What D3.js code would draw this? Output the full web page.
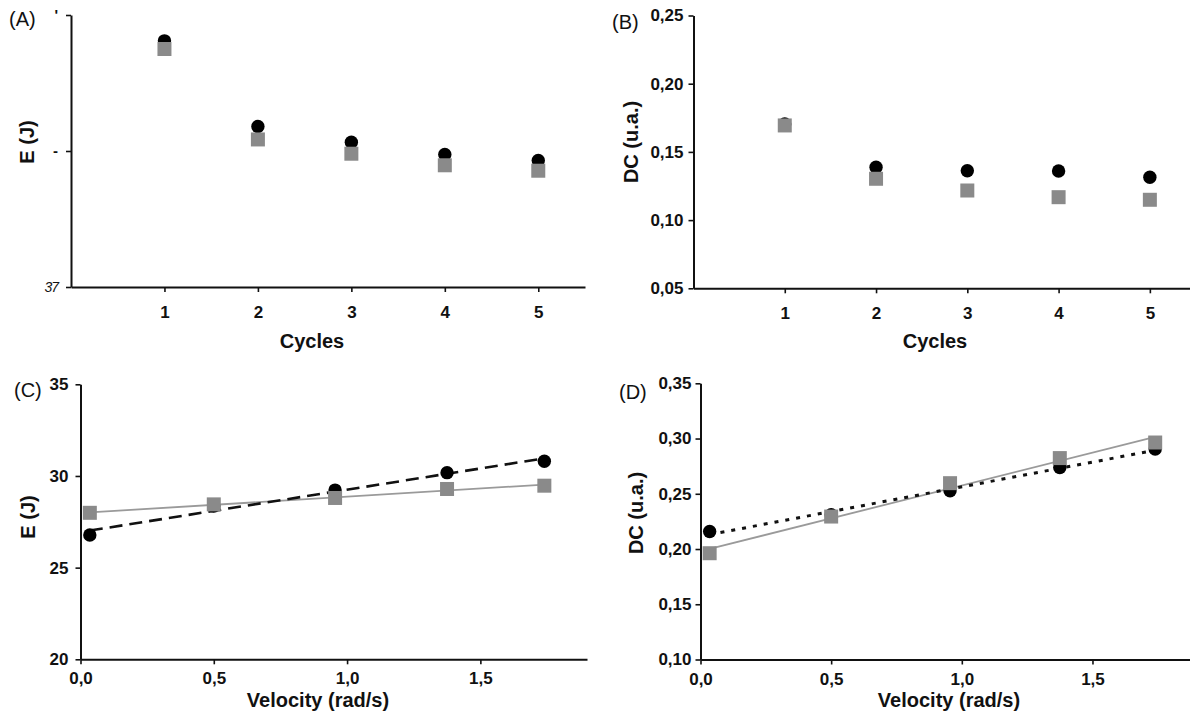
<!DOCTYPE html>
<html>
<head>
<meta charset="utf-8">
<script src="https://cdn.jsdelivr.net/npm/d3@7"></script>
<style>
  body { margin: 0; background: #fff; }
  svg { display: block; font-family: "Liberation Sans", Arial, sans-serif; }
</style>
</head>
<body>
<script>
const width = 1190;
const height = 716;

// values
const cycles = [1, 2, 3, 4, 5];
const energyCycleBlack = [40.62, 39.36, 39.13, 38.95, 38.86];
const energyCycleGray = [40.5, 39.17, 38.96, 38.79, 38.71];
const dcCycleBlack = [0.1705, 0.1387, 0.1362, 0.136, 0.1314];
const dcCycleGray = [0.1694, 0.1303, 0.1217, 0.1168, 0.1149];

const velocity = [0.035, 0.5, 0.955, 1.375, 1.74];
const energyVelBlack = [26.78, 28.36, 29.23, 30.18, 30.8];
const energyVelGray = [27.99, 28.45, 28.8, 29.29, 29.47];
const dcVelBlack = [0.2158, 0.231, 0.2527, 0.2738, 0.2905];
const dcVelGray = [0.1962, 0.2294, 0.2596, 0.2823, 0.2964];

// tick values / labels
const cycleTicks = [1, 2, 3, 4, 5];
const energyCycleTicks = [37, 39, 41];
const energyCycleTickLabels = ["37", "-", "'"]; // the original labels are cut off
const dcCycleTicks = [0.05, 0.1, 0.15, 0.2, 0.25];
const velocityTicks = [0, 0.5, 1.0, 1.5];
const energyVelTicks = [20, 25, 30, 35];
const dcVelTicks = [0.1, 0.15, 0.2, 0.25, 0.3, 0.35];

const locale = d3.formatLocale({ decimal: ",", thousands: ".", grouping: [3], currency: ["", ""] });
const f1 = locale.format(".1f");
const f2 = locale.format(".2f");

const grayFill = "#8a8a8a";

let svg = d3
  .select("body")
  .append("svg")
  .attr("width", width)
  .attr("height", height);

// simple least squares fit
function fit(xs, ys) {
  let mx = d3.mean(xs), my = d3.mean(ys);
  let num = d3.sum(xs, (x, i) => (x - mx) * (ys[i] - my));
  let den = d3.sum(xs, (x) => (x - mx) * (x - mx));
  let slope = num / den;
  return (x) => my + slope * (x - mx);
}

function drawPanel(p) {
  let g = svg.append("g").attr("id", "panel" + p.label);

  let x = d3.scaleLinear().domain(p.xDomain).range(p.xRange);
  let y = d3.scaleLinear().domain(p.yDomain).range(p.yRange);

  let xAxis = d3
    .axisBottom(x)
    .tickValues(p.xTicks)
    .tickFormat(p.xFormat)
    .tickSize(5)
    .tickSizeOuter(0)
    .tickPadding(p.xPad);

  let yAxis = d3
    .axisLeft(y)
    .tickValues(p.yTicks)
    .tickFormat(p.yFormat)
    .tickSize(5)
    .tickSizeOuter(0)
    .tickPadding(p.yPad);

  let gx = g
    .append("g")
    .attr("transform", `translate(0, ${p.yRange[0]})`)
    .call(xAxis);
  let gy = g
    .append("g")
    .attr("transform", `translate(${p.xRange[0]}, 0)`)
    .call(yAxis);

  [gx, gy].forEach((a) => {
    a.select(".domain").attr("stroke", "#111").attr("stroke-width", 2);
    a.selectAll(".tick line").attr("stroke", "#111").attr("stroke-width", 1.6);
    a.selectAll(".tick text")
      .attr("fill", "#111")
      .attr("font-family", "Liberation Sans, Arial, sans-serif")
      .attr("font-weight", "bold")
      .attr("font-size", 17);
  });
  if (p.styleYTicks) p.styleYTicks(gy);

  // fitted lines
  if (p.fitLines) {
    let x0 = p.xs[0], x1 = p.xs[p.xs.length - 1];
    let fb = fit(p.xs, p.black);
    let fg = fit(p.xs, p.gray);
    g.append("line")
      .attr("x1", x(x0)).attr("y1", y(fg(x0)))
      .attr("x2", x(x1)).attr("y2", y(fg(x1)))
      .attr("stroke", "#9a9a9a")
      .attr("stroke-width", 1.8);
    g.append("line")
      .attr("x1", x(x0)).attr("y1", y(fb(x0)))
      .attr("x2", x(x1)).attr("y2", y(fb(x1)))
      .attr("stroke", "#111")
      .attr("stroke-width", p.dash === "dot" ? 3 : 2.6)
      .attr("stroke-dasharray", p.dash === "dot" ? "4,7" : "13,7");
  }

  g.selectAll("circle")
    .data(p.xs.map((v, i) => ({ x: v, y: p.black[i] })))
    .join("circle")
    .attr("cx", (d) => x(d.x))
    .attr("cy", (d) => y(d.y))
    .attr("r", 6.7)
    .attr("fill", "#000");

  let s = 14;
  g.selectAll("rect")
    .data(p.xs.map((v, i) => ({ x: v, y: p.gray[i] })))
    .join("rect")
    .attr("x", (d) => x(d.x) - s / 2)
    .attr("y", (d) => y(d.y) - s / 2)
    .attr("width", s)
    .attr("height", s)
    .attr("fill", grayFill);

  // axis titles
  g.append("text")
    .attr("transform", `translate(${p.yTitlePos[0]}, ${p.yTitlePos[1]}) rotate(-90)`)
    .attr("text-anchor", "middle")
    .attr("dy", "0.35em")
    .attr("font-weight", "bold")
    .attr("font-size", 20)
    .attr("fill", "#111")
    .text(p.yTitle);

  g.append("text")
    .attr("x", p.xTitlePos[0])
    .attr("y", p.xTitlePos[1])
    .attr("text-anchor", "middle")
    .attr("dy", "0.35em")
    .attr("font-weight", "bold")
    .attr("font-size", 20)
    .attr("fill", "#111")
    .text(p.xTitle);

  g.append("text")
    .attr("x", p.labelPos[0])
    .attr("y", p.labelPos[1])
    .attr("font-size", 20)
    .attr("fill", "#111")
    .text("(" + p.label + ")");
}

drawPanel({
  label: "A",
  xDomain: [0, 5.5], xRange: [71, 585],
  yDomain: [37, 41], yRange: [287, 15],
  xTicks: cycleTicks, xFormat: d3.format("d"), xPad: 14,
  yTicks: energyCycleTicks,
  yFormat: (d, i) => energyCycleTickLabels[i],
  yPad: 8,
  styleYTicks: (gy) => {
    gy.selectAll(".tick text")
      .attr("font-weight", (d, i) => (i === 0 ? "normal" : "bold"))
      .attr("font-style", (d, i) => (i === 0 ? "italic" : "normal"))
      .attr("font-size", (d, i) => (i === 0 ? 14 : 15))
      .attr("letter-spacing", (d, i) => (i === 0 ? -1 : 0));
  },
  xs: cycles, black: energyCycleBlack, gray: energyCycleGray,
  fitLines: false,
  yTitle: "E (J)", yTitlePos: [27, 142],
  xTitle: "Cycles", xTitlePos: [312, 341],
  labelPos: [9, 26]
});

drawPanel({
  label: "B",
  xDomain: [0, 5.5], xRange: [693.5, 1195.5],
  yDomain: [0.05, 0.25], yRange: [288.3, 15.5],
  xTicks: cycleTicks, xFormat: d3.format("d"), xPad: 14,
  yTicks: dcCycleTicks, yFormat: f2, yPad: 5,
  xs: cycles, black: dcCycleBlack, gray: dcCycleGray,
  fitLines: false,
  yTitle: "DC (u.a.)", yTitlePos: [631, 142],
  xTitle: "Cycles", xTitlePos: [935, 341],
  labelPos: [612, 29]
});

drawPanel({
  label: "C",
  xDomain: [0, 1.9], xRange: [80.5, 587],
  yDomain: [20, 35], yRange: [659.3, 384.3],
  xTicks: velocityTicks, xFormat: f1, xPad: 8,
  yTicks: energyVelTicks, yFormat: d3.format("d"), yPad: 7,
  xs: velocity, black: energyVelBlack, gray: energyVelGray,
  fitLines: true, dash: "dash",
  yTitle: "E (J)", yTitlePos: [28, 517],
  xTitle: "Velocity (rad/s)", xTitlePos: [318, 700],
  labelPos: [14, 397]
});

drawPanel({
  label: "D",
  xDomain: [0, 1.9], xRange: [700.5, 1197],
  yDomain: [0.1, 0.35], yRange: [659.5, 383.3],
  xTicks: velocityTicks, xFormat: f1, xPad: 8,
  yTicks: dcVelTicks, yFormat: f2, yPad: 4,
  xs: velocity, black: dcVelBlack, gray: dcVelGray,
  fitLines: true, dash: "dot",
  yTitle: "DC (u.a.)", yTitlePos: [636, 513],
  xTitle: "Velocity (rad/s)", xTitlePos: [949, 700],
  labelPos: [619, 399]
});
</script>
</body>
</html>
